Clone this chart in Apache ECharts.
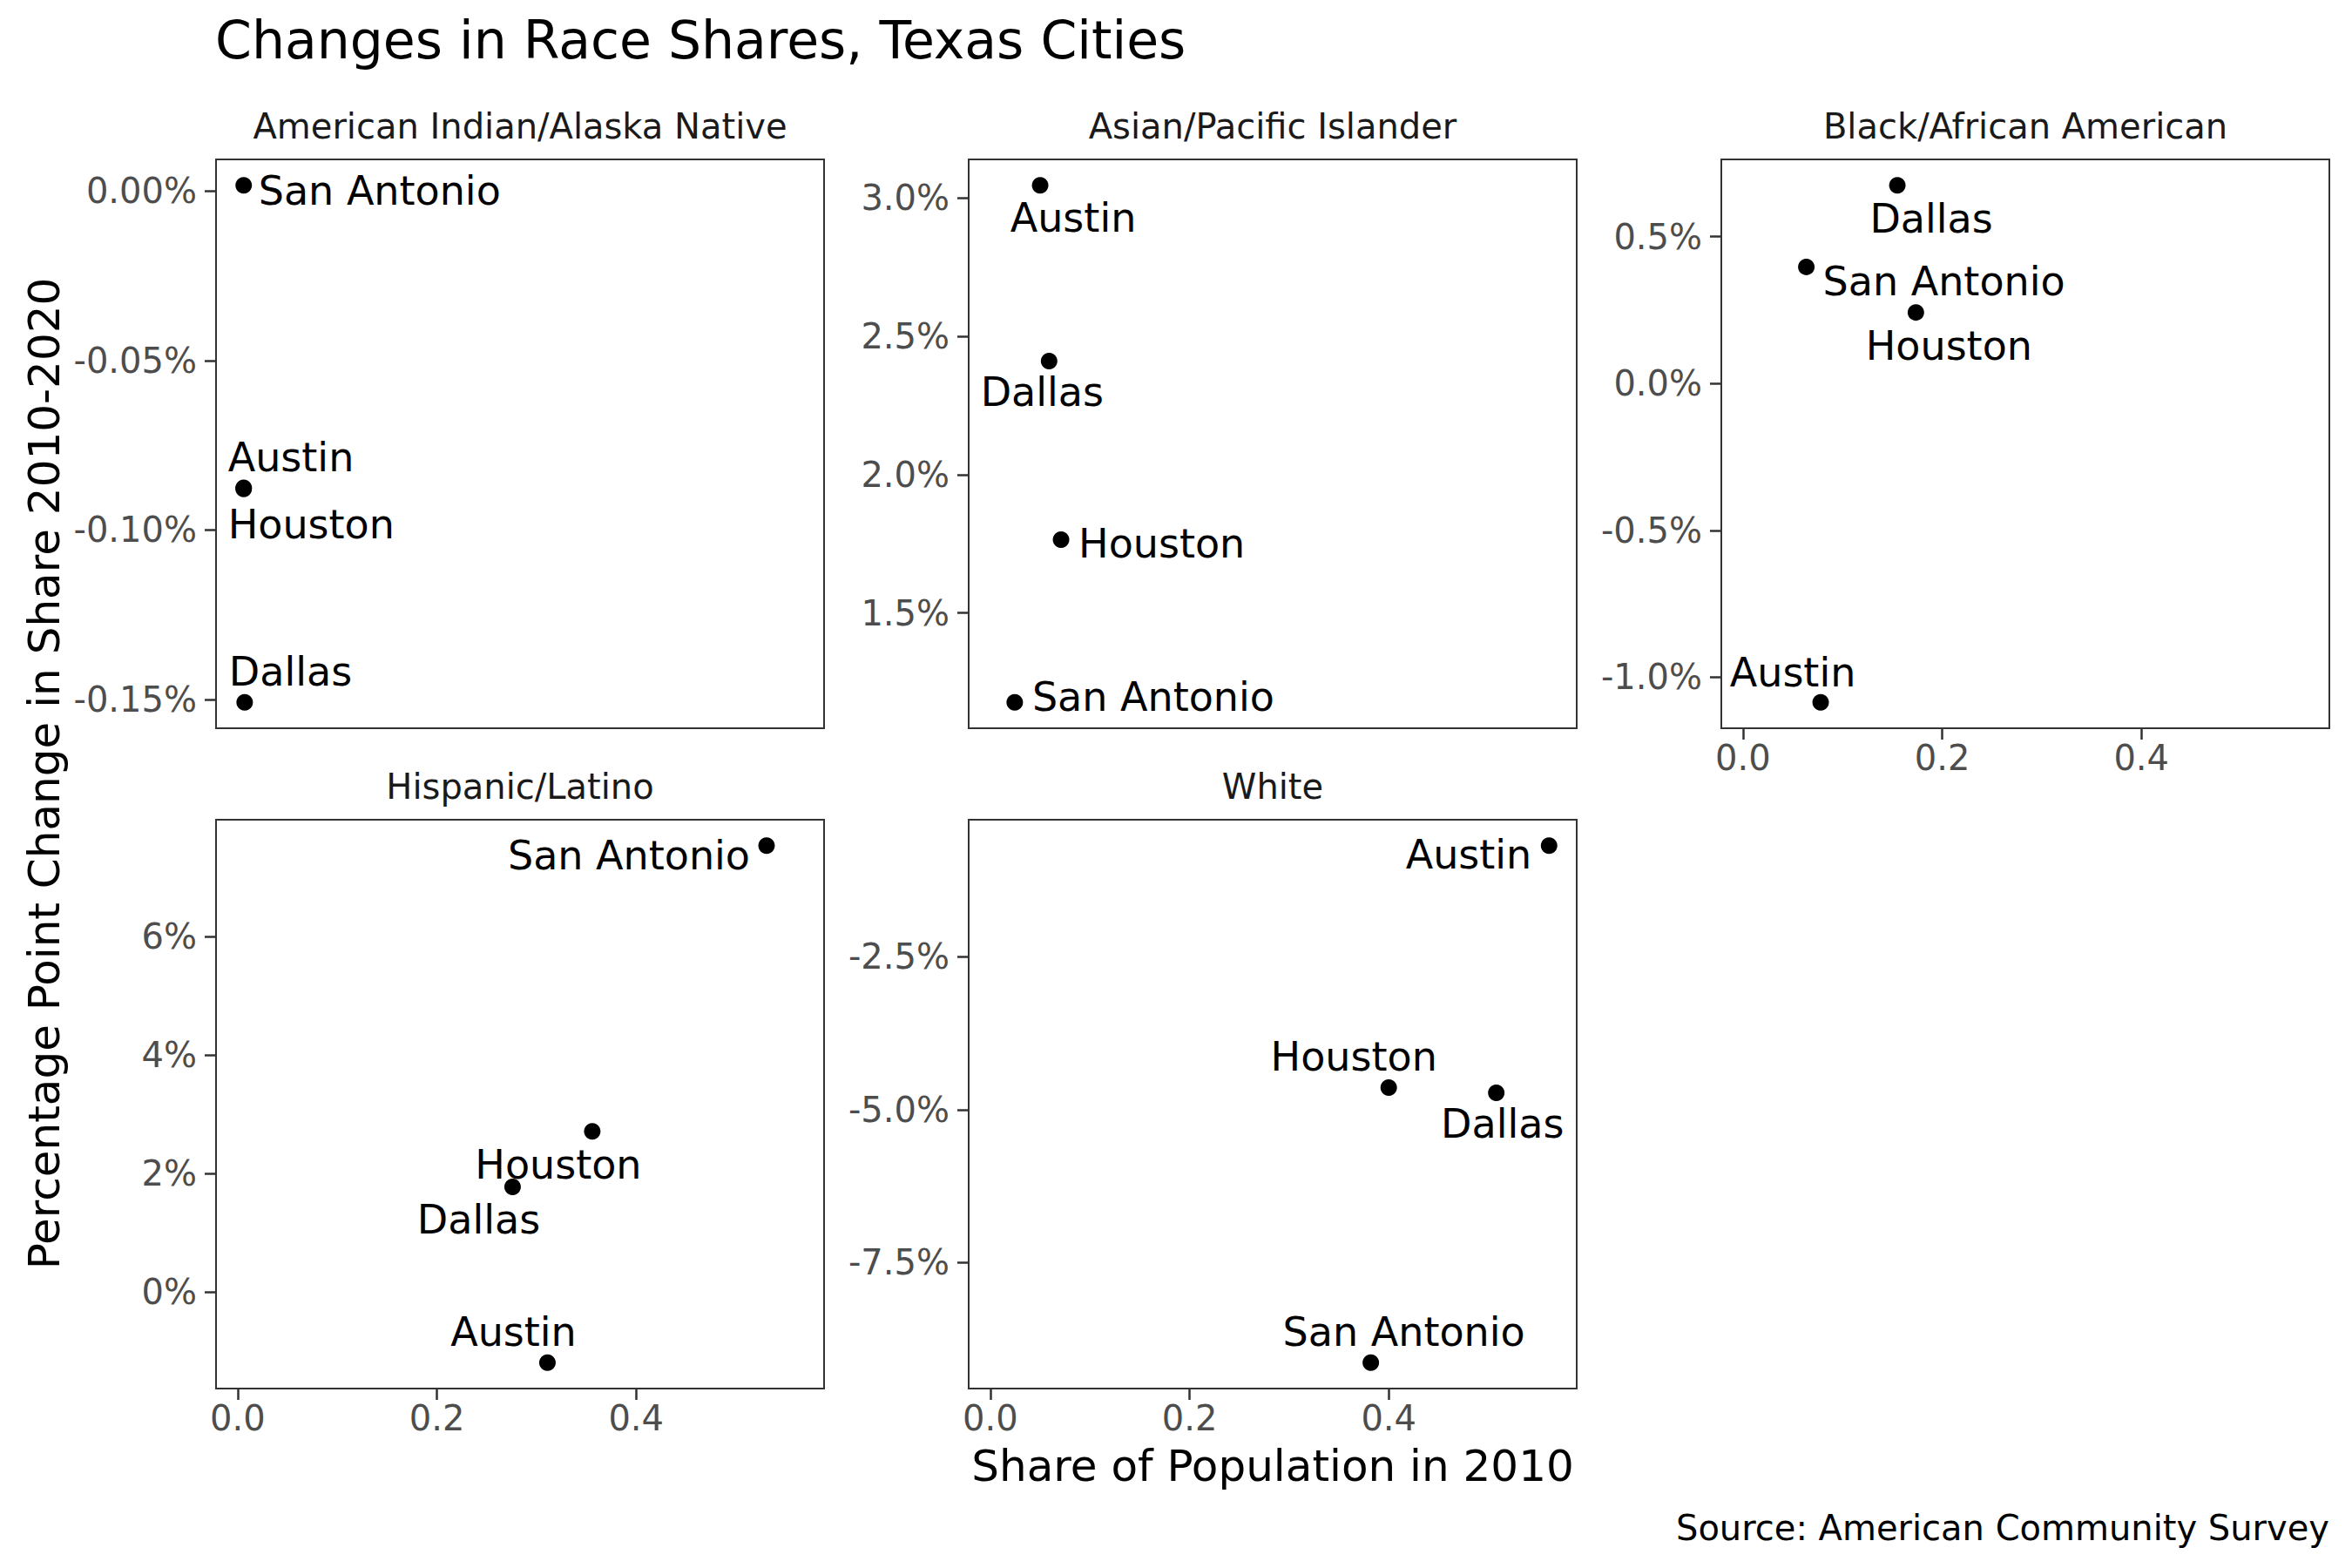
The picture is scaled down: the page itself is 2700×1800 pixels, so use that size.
<!DOCTYPE html>
<html>
<head>
<meta charset="utf-8">
<script src="https://cdn.jsdelivr.net/npm/echarts@6/dist/echarts.min.js"></script>
<style>
html,body{margin:0;padding:0;background:#fff;}
#chart{width:2700px;height:1800px;}
</style>
</head>
<body>
<div id="chart"></div>
<script>
// ---------- data ----------
const cities = ['Austin', 'Dallas', 'Houston', 'San Antonio'];
const panelTitles = ['American Indian/Alaska Native', 'Asian/Pacific Islander', 'Black/African American', 'Hispanic/Latino', 'White'];

// share of population in 2010 (fraction), city order as above
const aianShare  = [0.006, 0.007, 0.006, 0.006];
const asianShare = [0.050, 0.059, 0.071, 0.0245];
const blackShare = [0.078, 0.155, 0.1736, 0.0636];
const hispShare  = [0.311, 0.276, 0.356, 0.531];
const whiteShare = [0.561, 0.508, 0.400, 0.382];

// percentage point change in share 2010-2020 (in %)
const aianChange  = [-0.0876, -0.1509, -0.0879, 0.0017];
const asianChange = [3.045, 2.41, 1.765, 1.177];
const blackChange = [-1.086, 0.675, 0.242, 0.397];
const hispChange  = [-1.19, 1.776, 2.71, 7.53];
const whiteChange = [-0.681, -4.725, -4.638, -9.138];

// tick labels
const xTicks = [0, 0.2, 0.4];
const aianTicks  = [-0.15, -0.10, -0.05, 0.00];
const asianTicks = [1.5, 2.0, 2.5, 3.0];
const blackTicks = [-1.0, -0.5, 0.0, 0.5];
const hispTicks  = [0, 2, 4, 6];
const whiteTicks = [-7.5, -5.0, -2.5];
const tickDecimals = [2, 1, 1, 0, 1];

const titleText = 'Changes in Race Shares, Texas Cities';
const xTitle = 'Share of Population in 2010';
const yTitle = 'Percentage Point Change in Share 2010-2020';
const captionText = 'Source: American Community Survey';

// ---------- layout / style (kept apart from data) ----------
const FONT = 'DejaVu Sans';
const shares = [aianShare, asianShare, blackShare, hispShare, whiteShare];
const changes = [aianChange, asianChange, blackChange, hispChange, whiteChange];
const yTicksAll = [aianTicks, asianTicks, blackTicks, hispTicks, whiteTicks];
const PW = 698, PH = 653;
const panelPos = [[248, 183], [1112, 183], [1976, 183], [248, 941], [1112, 941]];
const showXAxis = [false, false, true, true, true];
// label placement per panel, per city: [align, dx, dy]
const labelPlace = [
  [['left', -18, -35], ['left', -18, -35], ['left', -18, 41], ['left', 17, 6]],
  [['center', 38, 37], ['center', -8, 36], ['left', 20, 5], ['left', 20, -6]],
  [['center', -32, -34], ['center', 39, 38], ['center', 38, 38], ['left', 19, 17]],
  [['center', -39, -35], ['center', -39, 38], ['center', -39, 38], ['right', -19, 11]],
  [['right', -20, 10], ['center', 7, 35], ['center', -40, -35], ['center', 38, -35]]
];

function expand(arr) {
  const mn = Math.min(...arr), mx = Math.max(...arr);
  const r = mx - mn;
  return [mn - 0.05 * r, mx + 0.05 * r];
}
const allX = [].concat(...shares);
const xr = expand(allX);

const grids = [], xAxes = [], yAxes = [], series = [], graphics = [];
panelPos.forEach((p, i) => {
  grids.push({left: p[0], top: p[1], width: PW, height: PH, show: true,
    borderColor: '#333333', borderWidth: 2, backgroundColor: 'transparent', containLabel: false});
  xAxes.push({
    type: 'value', gridIndex: i, min: xr[0], max: xr[1],
    axisLine: {show: false, onZero: false},
    splitLine: {show: false},
    axisTick: {show: showXAxis[i], length: 13, lineStyle: {color: '#333333', width: 2.5}, customValues: xTicks},
    axisLabel: {show: showXAxis[i], customValues: xTicks, margin: 14, color: '#4D4D4D',
      fontFamily: FONT, fontSize: 40, formatter: v => v.toFixed(1)}
  });
  const yr = expand(changes[i]);
  const dec = tickDecimals[i];
  yAxes.push({
    type: 'value', gridIndex: i, min: yr[0], max: yr[1],
    axisLine: {show: false, onZero: false},
    splitLine: {show: false},
    axisTick: {show: true, length: 13, lineStyle: {color: '#333333', width: 2.5}, customValues: yTicksAll[i]},
    axisLabel: {show: true, customValues: yTicksAll[i], margin: 22, color: '#4D4D4D',
      fontFamily: FONT, fontSize: 40, formatter: v => (Math.abs(v) < 1e-9 ? 0 : v).toFixed(dec) + '%'}
  });
  series.push({
    type: 'scatter', xAxisIndex: i, yAxisIndex: i, symbol: 'circle', symbolSize: 19,
    silent: true, itemStyle: {color: '#000000', opacity: 1},
    data: cities.map((c, j) => {
      const lp = labelPlace[i][j];
      return {
        name: c, value: [shares[i][j], changes[i][j]],
        label: {show: true, position: 'inside', formatter: '{b}', align: lp[0], verticalAlign: 'middle',
          offset: [lp[1], lp[2]], color: '#000000', opacity: 1, fontFamily: FONT, fontSize: 46}
      };
    })
  });
  graphics.push({type: 'text', x: p[0] + PW / 2, y: p[1] - 38,
    style: {text: panelTitles[i], fill: '#1A1A1A', font: '40px "' + FONT + '"', textAlign: 'center', textVerticalAlign: 'middle'}});
});

graphics.push({type: 'text', x: 247, y: 46,
  style: {text: titleText, fill: '#000000', font: '60px "' + FONT + '"', textAlign: 'left', textVerticalAlign: 'middle'}});
graphics.push({type: 'text', x: 1461, y: 1683,
  style: {text: xTitle, fill: '#000000', font: '50px "' + FONT + '"', textAlign: 'center', textVerticalAlign: 'middle'}});
graphics.push({type: 'text', x: 51, y: 888, rotation: Math.PI / 2,
  style: {text: yTitle, fill: '#000000', font: '50px "' + FONT + '"', textAlign: 'center', textVerticalAlign: 'middle'}});
graphics.push({type: 'text', x: 2674, y: 1754,
  style: {text: captionText, fill: '#000000', font: '40px "' + FONT + '"', textAlign: 'right', textVerticalAlign: 'middle'}});

const chart = echarts.init(document.getElementById('chart'), null, {renderer: 'svg'});
chart.setOption({
  animation: false,
  backgroundColor: '#ffffff',
  textStyle: {fontFamily: FONT},
  grid: grids, xAxis: xAxes, yAxis: yAxes, series: series,
  graphic: graphics
});
</script>
</body>
</html>
